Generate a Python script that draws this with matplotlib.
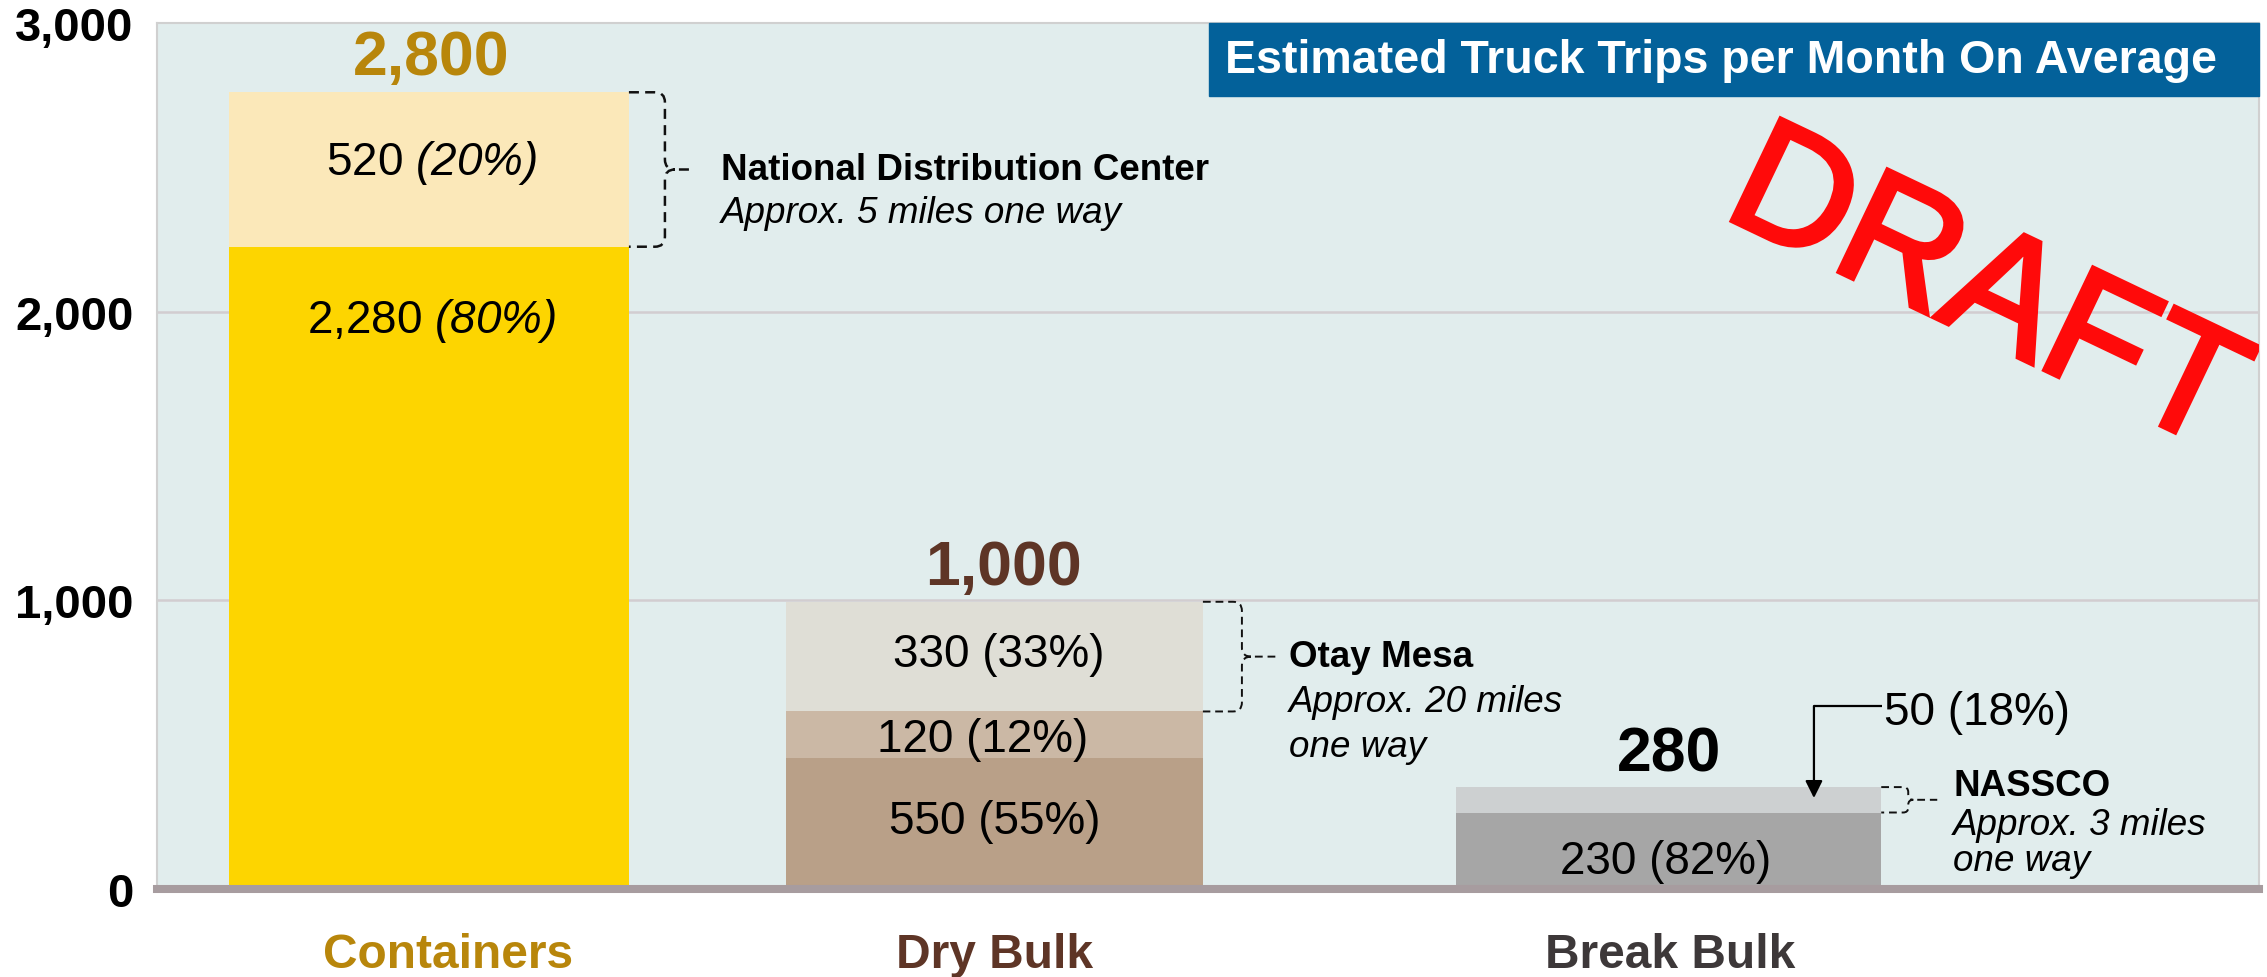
import matplotlib
matplotlib.use('Agg')
import matplotlib.pyplot as plt
from matplotlib.font_manager import FontProperties
from matplotlib.patches import PathPatch, Rectangle
from matplotlib.path import Path
from matplotlib.textpath import TextPath
from matplotlib.transforms import Affine2D, IdentityTransform

plt.rcParams['font.family'] = ['Liberation Sans', 'DejaVu Sans']
plt.rcParams['mathtext.fontset'] = 'custom'
plt.rcParams['mathtext.rm'] = 'Liberation Sans'
plt.rcParams['mathtext.bf'] = 'Liberation Sans:italic'  # italic shares in the container labels

# Data: segment heights as drawn on the slide (bottom -> top)
categories = ['Containers', 'Dry Bulk', 'Break Bulk']
containers = [2225, 535]
dry_bulk = [455, 160, 380]
break_bulk = [265, 88]
totals = ['2,800', '1,000', '280']
containers_labels = [r'2,280 $\mathbf{(80\%)}$', r'520 $\mathbf{(20\%)}$']
dry_bulk_labels = ['550 (55%)', '120 (12%)', '330 (33%)']
break_bulk_labels = ['230 (82%)', '50 (18%)']
destinations = ['National Distribution Center', 'Otay Mesa', 'NASSCO']
distances = ['Approx. 5 miles one way', 'Approx. 20 miles\none way', 'Approx. 3 miles\none way']
y_ticks = [0, 1000, 2000, 3000]

# Styling / layout
W, H = 2267, 978
stack_colors = [['#FDD500', '#FBE8B9'],
                ['#B9A088', '#CBB8A5', '#DFDED6'],
                ['#A6A6A6', '#CDD0D1']]
cat_colors = ['#B8860B', '#5E3526', '#3D3839']
total_colors = ['#B8860B', '#5E3526', 'black']
bar_x = [0.0, 1.0, 2.192]
bar_w = [0.707, 0.737, 0.752]

fig = plt.figure(figsize=(W / 100, H / 100), dpi=100)
ax = fig.add_axes([157 / W, 1 - 890 / H, 2102 / W, 866 / H])
ax.set_xlim(-0.481, 3.236)
ax.set_ylim(0, 3000)
ax.set_facecolor('#E1EDED')

for side in ['left', 'top', 'right']:
    ax.spines[side].set_color('#D0D0D0')
    ax.spines[side].set_linewidth(1.5)
ax.spines['bottom'].set_visible(False)

for v in y_ticks[1:-1]:
    ax.axhline(v, color='#D2CDD0', lw=1.8, zorder=1)
ax.axhline(0, color='#A79C9F', lw=5.8, zorder=3, clip_on=False)

ax.set_xticks([])
ax.set_yticks(y_ticks)
ax.set_yticklabels(['{:,}'.format(v) for v in y_ticks], fontsize=34, fontweight='bold')
ax.tick_params(axis='y', length=0, pad=17)

# stacked bars
stacks = [containers, dry_bulk, break_bulk]
for x, w, parts, cols in zip(bar_x, bar_w, stacks, stack_colors):
    bottom = 0
    for h, c in zip(parts, cols):
        ax.bar(x, h, w, bottom=bottom, color=c, linewidth=0, zorder=2)
        bottom += h

# labels inside the bars
seg_label_y = [[1971, 2518], [236, 520, 814], [97]]
seg_label_dx = [[0.005, 0.005], [0.0, -0.021, 0.008], [-0.006]]
seg_labels = [containers_labels, dry_bulk_labels, break_bulk_labels[:1]]
for x, labs, ys, dxs in zip(bar_x, seg_labels, seg_label_y, seg_label_dx):
    for lab, y, dx in zip(labs, ys, dxs):
        ax.text(x + dx, y, lab, fontsize=33, ha='center', va='center', zorder=4)

# totals above the bars
total_y = [2882, 1115, 468]
total_dx = [0.004, 0.015, 0.0]
for x, t, y, dx, c in zip(bar_x, totals, total_y, total_dx, total_colors):
    ax.text(x + dx, y, t, fontsize=45, fontweight='bold', color=c,
            ha='center', va='center', zorder=4)

# category labels under the axis
cat_dx = [0.034, 0.0, 0.003]
for x, name, dx, c in zip(bar_x, categories, cat_dx, cat_colors):
    ax.text(x + dx, -0.076, name, transform=ax.get_xaxis_transform(),
            fontsize=34.5, fontweight='bold', color=c, ha='center', va='center')


def brace(x_right, y_top, y_bot, gap, arm, r, lw):
    x0, yt = ax.transData.transform((x_right, y_top))
    _, yb = ax.transData.transform((x_right, y_bot))
    xv = x0 + gap
    ym = (yt + yb) / 2
    verts = [(x0, yt), (xv - r, yt), (xv, yt), (xv, yt - r),
             (xv, ym + r), (xv, ym), (xv + r, ym),
             (xv + r, ym), (xv, ym), (xv, ym - r),
             (xv, yb + r), (xv, yb), (xv - r, yb), (x0, yb),
             (xv + r + 4, ym), (xv + arm, ym)]
    codes = [Path.MOVETO, Path.LINETO, Path.CURVE3, Path.CURVE3,
             Path.LINETO, Path.CURVE3, Path.CURVE3,
             Path.MOVETO, Path.CURVE3, Path.CURVE3,
             Path.LINETO, Path.CURVE3, Path.CURVE3, Path.LINETO,
             Path.MOVETO, Path.LINETO]
    ax.add_patch(PathPatch(Path(verts, codes), transform=IdentityTransform(),
                           fill=False, edgecolor='#111111', lw=lw,
                           linestyle=(0, (4, 2.5)), zorder=4, clip_on=False))


# destination brackets and notes
half = [w / 2 for w in bar_w]
brace(bar_x[0] + half[0], sum(containers), containers[0], 36, 30, 10, 1.8)
brace(bar_x[1] + half[1], sum(dry_bulk), sum(dry_bulk[:2]), 39, 35, 9, 1.4)
brace(bar_x[2] + half[2], sum(break_bulk), break_bulk[0], 27, 29, 5, 1.4)

note_x = [0.516, 1.521, 2.695]
note_y = [2494, 807, 360]
dist_y = [2345, 651, 225]
line_gap = [0, 156, 128]
for nx, ny, dy, lg, d, dist in zip(note_x, note_y, dist_y, line_gap, destinations, distances):
    ax.text(nx, ny, d, fontsize=26.5, fontweight='bold', ha='left', va='center', zorder=4)
    for i, line in enumerate(dist.split('\n')):
        ax.text(nx, dy - i * lg, line, fontsize=26.5, style='italic',
                ha='left', va='center', zorder=4)

# callout for the small NASSCO segment
arrow_x = bar_x[2] + 0.257
elbow_y = 634
ax.text(2.573, 613, break_bulk_labels[1], fontsize=33, ha='left', va='center', zorder=4)
ax.plot([2.569, arrow_x], [elbow_y, elbow_y], color='black', lw=1.6, zorder=4,
        solid_capstyle='butt')
ax.annotate('', xy=(arrow_x, break_bulk[0] + 0.57 * break_bulk[1]), xytext=(arrow_x, elbow_y),
            arrowprops=dict(arrowstyle='-|>', color='black', lw=1.6,
                            mutation_scale=26, shrinkA=0, shrinkB=0), zorder=4)

# title box
ax.add_patch(Rectangle((0.5005, 0.9157), 0.4995, 0.0843, transform=ax.transAxes,
                       color='#03619A', zorder=5, clip_on=False))
ax.text(0.508, 0.957, 'Estimated Truck Trips per Month On Average', transform=ax.transAxes,
        fontsize=33.5, fontweight='bold', color='white', ha='left', va='center', zorder=6)

# DRAFT stamp
draft = TextPath((0, 0), 'DRAFT', size=164, prop=FontProperties(family='Liberation Sans'))
stamp = Affine2D().rotate_deg(-25.5).translate(1720, H - 216)
ax.add_patch(PathPatch(draft, transform=stamp + IdentityTransform(),
                       facecolor='#FF0A0A', edgecolor='#FF0A0A', lw=3.6, zorder=7))

fig.savefig('out.png', dpi=100)
